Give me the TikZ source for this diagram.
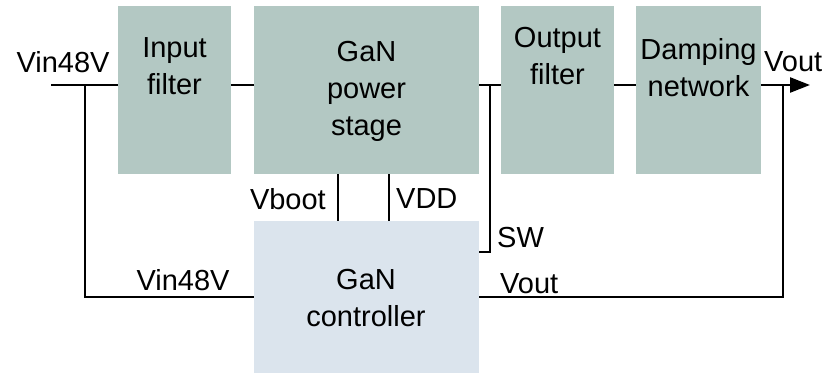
\documentclass[tikz,border=0pt]{standalone}
\usepackage{fontspec}
\setmainfont{Liberation Sans}
\usetikzlibrary{arrows.meta}
\definecolor{topbox}{HTML}{B3C8C3}
\definecolor{ctrlbox}{HTML}{DBE4ED}
\begin{document}
\begin{tikzpicture}[x=1pt,y=-1pt,
  blk/.style={fill=topbox,draw=none,inner sep=0pt,anchor=north west},
  ctl/.style={fill=ctrlbox,draw=none,inner sep=0pt,anchor=north west},
  txt/.style={font=\fontsize{29}{37}\selectfont,align=center,inner sep=0pt},
  lbl/.style={font=\fontsize{29}{37}\selectfont,inner sep=0pt},
  wire/.style={line width=2.4pt,black}]
\useasboundingbox (0,0) rectangle (829,375);
% boxes
\node[blk,minimum width=113pt,minimum height=168pt] (inf) at (118,6) {};
\node[blk,minimum width=225pt,minimum height=168pt] (ps) at (254,6) {};
\node[blk,minimum width=113pt,minimum height=168pt] (outf) at (501,6) {};
\node[blk,minimum width=125pt,minimum height=168pt] (damp) at (636,6) {};
\node[ctl,minimum width=225pt,minimum height=152pt] (ctrl) at (254,221) {};
% box texts
\node[txt] (inft) at (174.5,66) {Input\\filter};
\node[txt] (pst) at (366.5,91) {GaN\\power\\stage};
\node[txt] (outft) at (557.5,56) {Output\\filter};
\node[txt] (dampt) at (698.5,68) {Damping\\network};
\node[txt] (ctrlt) at (366,298) {GaN\\controller};
% coordinates
\coordinate (vin) at (51,85);
\coordinate (j1) at (85,85);
\coordinate (j3) at (490,85);
\coordinate (j2) at (783,85);
\coordinate (vo) at (810,85);
\coordinate (vb) at (338,0);
\coordinate (vd) at (389,0);
\coordinate (swb) at (490,252);
% wires
\draw[wire] (vin) -- (inf.west |- vin);
\draw[wire] (inf.east |- vin) -- (ps.west |- vin);
\draw[wire] (ps.east |- vin) -- (outf.west |- vin);
\draw[wire] (outf.east |- vin) -- (damp.west |- vin);
\draw[wire,-{Triangle[length=20pt,width=15pt]}] (damp.east |- vin) -- (vo);
\draw[wire] (j1) |- (ctrl.west);
\draw[wire] (ctrl.east) -| (j2);
\draw[wire] (ps.south -| vb) -- (ctrl.north -| vb);
\draw[wire] (ps.south -| vd) -- (ctrl.north -| vd);
\draw[wire] (j3) -- (swb) -- (swb -| ctrl.east);
% labels
\node[lbl] (lvin) at (63,62) {Vin48V};
\node[lbl,anchor=west] (lvout) at (764,62) {Vout};
\node[lbl,anchor=east] (lvboot) at (326,199) {Vboot};
\node[lbl,anchor=west] (lvdd) at (396,199) {VDD};
\node[lbl,anchor=west] (lsw) at (497,238) {SW};
\node[lbl] (lvin2) at (183,280) {Vin48V};
\node[lbl,anchor=west] (lvout2) at (500,284) {Vout};
\end{tikzpicture}
\end{document}
